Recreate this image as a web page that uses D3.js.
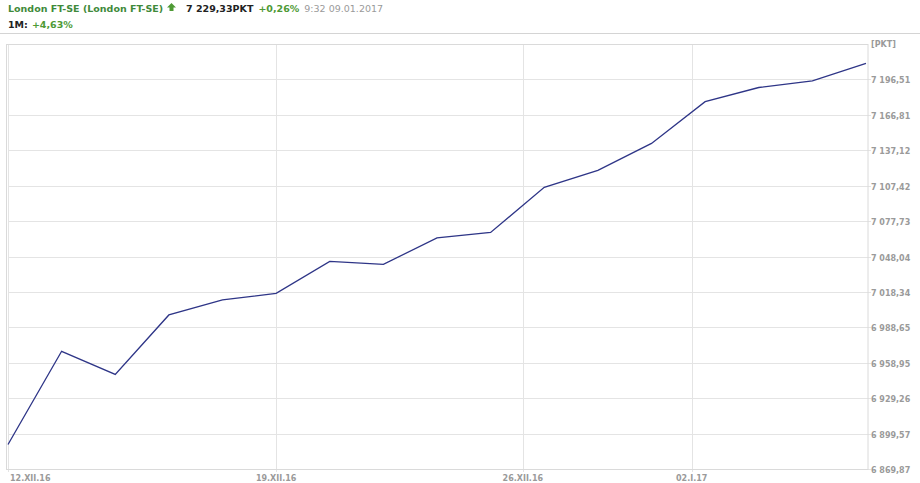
<!DOCTYPE html>
<html>
<head>
<meta charset="utf-8">
<script src="https://cdn.jsdelivr.net/npm/d3@7/dist/d3.min.js"></script>
<style>
  html, body { margin: 0; padding: 0; background: #fff; }
  svg { display: block; }
  text { font-family: "DejaVu Sans", Verdana, sans-serif; }
</style>
</head>
<body>
<svg id="chart" width="920" height="483"></svg>
<script>
// ---- data ----
const dates = ["2016-12-12","2016-12-13","2016-12-14","2016-12-15","2016-12-16",
               "2016-12-19","2016-12-20","2016-12-21","2016-12-22","2016-12-23",
               "2016-12-28","2016-12-29","2016-12-30",
               "2017-01-03","2017-01-04","2017-01-05","2017-01-06"];
const values = [6890.42, 6968.57, 6949.15, 6999.04, 7011.64,
                7017.16, 7043.96, 7041.42, 7063.68, 7068.17,
                7106.08, 7120.26, 7142.83,
                7177.89, 7189.74, 7195.31, 7210.05];
const yTicks = [6869.87, 6899.57, 6929.26, 6958.95, 6988.65, 7018.34,
                7048.04, 7077.73, 7107.42, 7137.12, 7166.81, 7196.51];
const yTickLabels = ["6 869,87","6 899,57","6 929,26","6 958,95","6 988,65","7 018,34",
                     "7 048,04","7 077,73","7 107,42","7 137,12","7 166,81","7 196,51"];
const xTickDates = ["2016-12-12","2016-12-19","2016-12-26","2017-01-02"];
const xTickLabels = ["12.XII.16","19.XII.16","26.XII.16","02.I.17"];
const header = {name: "London FT-SE (London FT-SE)", price: "7 229,33PKT", change: "+0,26%",
                time: "9:32 09.01.2017", periodLabel: "1M:", periodChange: "+4,63%"};
const unitLabel = "[PKT]";

// ---- layout ----
const svg = d3.select("#chart");
const L = 8, R = 866, T = 44, B = 469;
const frameR = 868;
const green = "#4e9a35", titleGreen = "#3f8a3a", grey = "#9a9a9a";

const parse = d3.utcParse("%Y-%m-%d");
const dt = dates.map(parse);
const xIdx = d3.scaleLinear().domain([0, dates.length - 1]).range([L, R]);
// polylinear time scale through the trading days (non-trading days interpolated)
const xTime = d3.scaleLinear().domain(dt.map(d => +d)).range(dt.map((d, i) => xIdx(i)));

const step = yTicks[1] - yTicks[0];
const y = d3.scaleLinear().domain([yTicks[0], yTicks[yTicks.length - 1] + step]).range([B, T]);

// header
svg.append("line").attr("x1", 0).attr("x2", 920).attr("y1", 33.5).attr("y2", 33.5)
  .attr("stroke", "#d4d4d4").attr("stroke-width", 1);

const h1 = svg.append("text").attr("x", 8).attr("y", 11.5).attr("font-size", "9.5px").attr("font-weight", "bold");
h1.append("tspan").attr("fill", titleGreen).text(header.name);
svg.append("path")
  .attr("d", "M171.5,3 L176,7.5 L173.5,7.5 L173.5,11 L169.5,11 L169.5,7.5 L167,7.5 Z")
  .attr("fill", green);
const h1b = svg.append("text").attr("x", 186).attr("y", 11.5).attr("font-size", "9.5px").attr("font-weight", "bold");
h1b.append("tspan").attr("fill", "#222").text(header.price);
h1b.append("tspan").attr("fill", green).attr("dx", 5).text(header.change);
h1b.append("tspan").attr("fill", grey).attr("font-weight", "normal").attr("dx", 5).text(header.time);

const h2 = svg.append("text").attr("x", 8).attr("y", 28).attr("font-size", "9.5px").attr("font-weight", "bold");
h2.append("tspan").attr("fill", "#222").text(header.periodLabel);
h2.append("tspan").attr("fill", green).attr("dx", 4).text(header.periodChange);

// grid
const g = svg.append("g");
g.selectAll("line.hg").data(yTicks).join("line").attr("class", "hg")
  .attr("x1", L).attr("x2", frameR + 3)
  .attr("y1", d => Math.round(y(d)) + 0.5).attr("y2", d => Math.round(y(d)) + 0.5)
  .attr("stroke", "#e4e4e4").attr("stroke-width", 1);

g.selectAll("line.vg").data(xTickDates).join("line").attr("class", "vg")
  .attr("x1", d => Math.round(xTime(+parse(d))) + 0.5)
  .attr("x2", d => Math.round(xTime(+parse(d))) + 0.5)
  .attr("y1", T).attr("y2", B + 3)
  .attr("stroke", "#e4e4e4").attr("stroke-width", 1);

// frame
g.append("rect").attr("x", 6.5).attr("y", T + 0.5).attr("width", frameR - 6.5).attr("height", B - T)
  .attr("fill", "none").attr("stroke", "#dadada").attr("stroke-width", 1);

// y labels
svg.selectAll("text.yl").data(yTicks).join("text").attr("class", "yl")
  .attr("x", 871).attr("y", d => y(d) + 4)
  .attr("font-size", "8px").attr("font-weight", "bold").attr("fill", grey)
  .text((d, i) => yTickLabels[i]);
svg.append("text").attr("x", 871).attr("y", 46.5)
  .attr("font-size", "8px").attr("font-weight", "bold").attr("fill", grey).text(unitLabel);

// x labels
svg.selectAll("text.xl").data(xTickDates).join("text").attr("class", "xl")
  .attr("y", 480.5)
  .attr("font-size", "8px").attr("font-weight", "bold").attr("fill", grey)
  .attr("text-anchor", "middle")
  .text((d, i) => xTickLabels[i])
  .attr("x", function(d) {
    const w = this.getComputedTextLength();
    return Math.max(xTime(+parse(d)), L + 2 + w / 2);
  });

// line
const line = d3.line().x((d, i) => xIdx(i)).y(d => y(d));
svg.append("path").datum(values)
  .attr("d", line)
  .attr("fill", "none").attr("stroke", "#2e3587").attr("stroke-width", 1.3)
  .attr("stroke-linejoin", "miter");
</script>
</body>
</html>
